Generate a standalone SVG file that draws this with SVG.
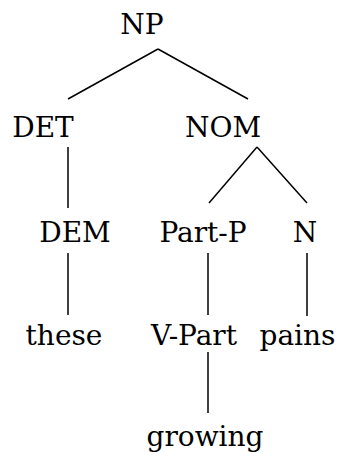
<svg xmlns="http://www.w3.org/2000/svg" width="339" height="452" viewBox="0 0 339 452">
<style>
text{font-family:"DejaVu Serif","Liberation Serif",serif;font-size:28px;fill:#000;text-anchor:middle}
.e{stroke:#000;stroke-width:1.5;fill:none}
</style>
<rect width="339" height="452" fill="#fff"/>
<g id="connectors">
<line class="e" x1="158" y1="49" x2="68" y2="99"/>
<line class="e" x1="158" y1="49" x2="248" y2="99"/>
<line class="e" x1="68" y1="147" x2="68" y2="208"/>
<line class="e" x1="257" y1="147" x2="209" y2="203"/>
<line class="e" x1="257" y1="147" x2="307" y2="203"/>
<line class="e" x1="68" y1="253" x2="68" y2="315"/>
<line class="e" x1="208" y1="253" x2="208" y2="315"/>
<line class="e" x1="307" y1="253" x2="307" y2="316"/>
<line class="e" x1="208" y1="352" x2="208" y2="413"/>
</g>
<g id="NP"><text x="142" y="34">NP</text></g>
<g id="DET"><text x="43" y="137">DET</text></g>
<g id="NOM"><text x="223" y="137">NOM</text></g>
<g id="DEM"><text x="75" y="241.5">DEM</text></g>
<g id="PartP"><text x="203" y="241.5">Part-P</text></g>
<g id="N"><text x="305" y="241.5">N</text></g>
<g id="these"><text x="64" y="344.5">these</text></g>
<g id="VPart"><text x="194" y="344.5">V-Part</text></g>
<g id="pains"><text x="297.5" y="344.5">pains</text></g>
<g id="growing"><text x="205" y="446">growing</text></g>
</svg>
